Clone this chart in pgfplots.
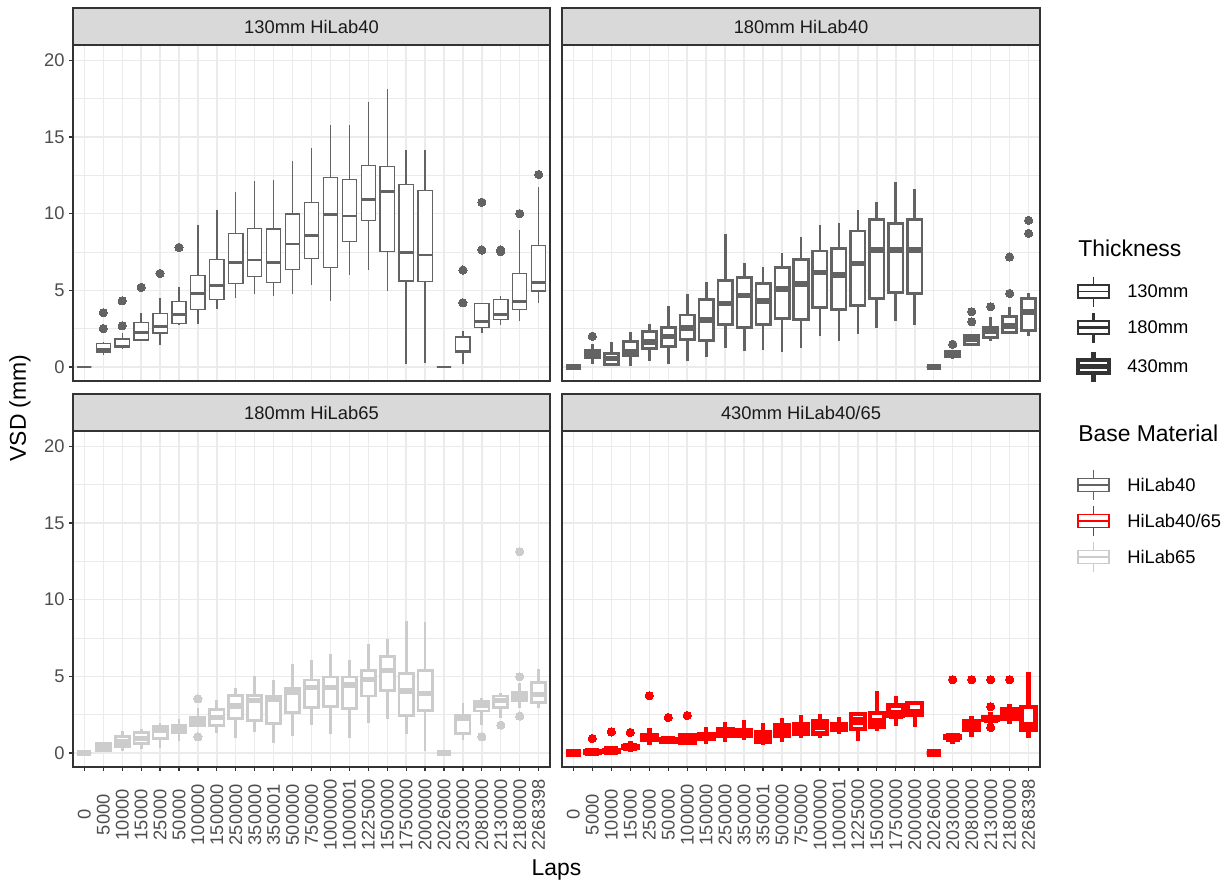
\documentclass[border=0pt]{standalone}
\usepackage{fontspec}
\setmainfont{Liberation Sans}
\usepackage{pgfplots}
\usepackage{pgfplotstable}
\pgfplotsset{compat=1.18}
\usepgfplotslibrary{statistics}

\definecolor{hl40}{HTML}{636363}
\definecolor{hl65}{HTML}{CCCCCC}
\definecolor{hlmix}{HTML}{FF0000}
\definecolor{gridc}{HTML}{EBEBEB}
\definecolor{framec}{HTML}{333333}
\definecolor{stripc}{HTML}{D9D9D9}
\definecolor{tickc}{HTML}{4D4D4D}
\definecolor{stript}{HTML}{1A1A1A}

% Box statistics per panel: position, lower whisker, Q1, median, Q3, upper whisker
\pgfplotstableread{
x lw q1 med q3 uw
0 0 0 0 0 0
1 0.76 0.98 1.15 1.53 1.63
2 1.20 1.26 1.35 1.83 2.20
3 1.68 1.76 2.22 2.90 3.49
4 1.42 2.22 2.61 3.49 4.47
5 2.72 2.83 3.42 4.25 5.19
6 2.83 3.73 4.79 5.97 9.26
7 3.79 4.40 5.32 7.02 10.24
8 4.47 5.45 6.80 8.71 11.44
9 4.75 5.88 6.97 9.04 12.11
10 4.62 5.49 6.80 9.00 12.20
11 4.75 6.34 8.02 9.98 13.46
12 5.34 7.06 8.56 10.74 14.27
13 4.31 6.49 9.96 12.35 15.75
14 5.97 8.17 9.85 12.24 15.75
15 6.32 9.54 10.94 13.16 17.25
16 4.97 7.54 11.44 13.07 18.13
17 0.17 5.60 7.47 11.92 14.12
18 0.26 5.58 7.30 11.52 14.12
19 0 0 0 0 0
20 0.17 0.92 1.00 1.96 2.33
21 2.24 2.57 2.94 4.14 4.14
22 2.72 3.09 3.42 4.40 4.62
23 3.00 3.75 4.29 6.10 8.93
24 4.14 4.95 5.53 7.91 11.76
}\tabA
\pgfplotstableread{
x y
1 3.53
1 2.50
2 4.31
2 2.68
3 5.19
4 6.10
5 7.80
20 6.32
20 4.18
21 10.74
21 7.63
22 7.63
22 7.52
23 10.00
24 12.55
}\outA

\pgfplotstableread{
x lw q1 med q3 uw
0 0 0 0 0 0
1 0.22 0.59 0.81 1.05 1.48
2 0.04 0.17 0.54 0.87 1.63
3 0.04 0.74 0.98 1.68 2.27
4 0.37 1.22 1.63 2.31 2.83
5 0.22 1.31 1.98 2.57 4.00
6 0.37 1.81 2.53 3.38 4.75
7 0.65 1.74 3.05 4.40 5.51
8 1.26 2.77 4.12 5.66 8.67
9 1.05 2.57 4.64 5.84 6.80
10 1.09 2.77 4.31 5.45 6.54
11 0.98 3.14 5.08 6.47 7.45
12 1.26 3.09 5.40 7.02 8.45
13 2.00 3.88 6.14 7.56 9.26
14 1.68 3.75 5.99 7.71 9.37
15 2.14 4.00 6.75 8.87 10.24
16 2.57 4.47 7.63 9.63 10.78
17 3.00 4.86 7.63 9.37 12.03
18 2.72 4.79 7.63 9.63 11.59
19 0 0 0 0 0
20 0.50 0.65 0.83 1.02 1.02
21 1.48 1.48 1.81 2.05 2.05
22 1.68 1.90 2.33 2.57 3.27
23 2.18 2.22 2.66 3.31 3.92
24 2.03 2.40 3.59 4.47 4.84
}\tabB
\pgfplotstableread{
x y
1 2.00
20 1.48
21 2.94
21 3.60
22 3.92
23 4.79
23 7.17
24 8.71
24 9.56
}\outB

\pgfplotstableread{
x lw q1 med q3 uw
0 0 0 0 0 0
1 0.07 0.15 0.37 0.59 0.72
2 0.11 0.44 0.72 1.05 1.42
3 0.26 0.59 0.92 1.31 1.59
4 0.33 0.92 1.48 1.70 1.96
5 0.76 1.31 1.59 1.81 2.18
6 1.68 1.81 2.03 2.33 2.94
7 1.31 1.81 2.29 2.84 3.42
8 0.98 2.22 3.05 3.77 4.25
9 1.37 2.14 3.42 3.77 5.02
10 0.65 1.90 3.47 3.69 4.73
11 1.09 2.62 3.93 4.19 5.78
12 1.81 2.94 4.25 4.75 6.06
13 1.24 3.05 4.25 4.95 6.48
14 0.98 2.90 4.43 4.95 6.06
15 1.96 3.71 4.80 5.39 7.09
16 2.22 4.08 5.39 6.28 7.42
17 1.24 2.46 4.03 5.19 8.62
18 0.15 2.77 3.86 5.39 8.57
19 0 0 0 0 0
20 0.81 1.26 2.25 2.44 3.27
21 1.85 2.73 3.12 3.34 3.60
22 2.29 2.94 3.42 3.71 3.93
23 2.90 3.38 3.64 3.93 4.54
24 2.90 3.27 3.82 4.58 5.45
}\tabC
\pgfplotstableread{
x y
6 3.53
6 1.05
21 1.05
22 1.81
23 4.97
23 2.40
23 13.13
}\outC

\pgfplotstableread{
x lw q1 med q3 uw
0 0 0 0 0 0
1 0 0.02 0.06 0.10 0.30
2 0 0.10 0.15 0.20 0.45
3 0.09 0.35 0.40 0.46 0.78
4 0.52 0.83 1.00 1.18 1.61
5 0.61 0.76 0.83 0.89 1.05
6 0.50 0.65 0.85 1.18 1.33
7 0.57 0.94 1.10 1.24 1.70
8 0.68 1.11 1.29 1.55 2.03
9 0.83 1.11 1.33 1.50 2.14
10 0.52 0.72 1.00 1.33 1.94
11 0.68 1.11 1.48 1.83 2.27
12 1.00 1.26 1.55 1.90 2.49
13 0.96 1.26 1.77 2.05 2.53
14 1.26 1.53 1.70 1.90 2.36
15 0.78 1.55 2.07 2.55 2.64
16 1.40 1.70 1.98 2.60 4.01
17 1.77 2.40 2.50 3.08 3.69
18 1.70 2.50 2.60 3.25 3.40
19 0 0 0 0 0
20 0.61 0.98 1.02 1.07 1.22
21 1.05 1.48 1.83 2.05 2.38
22 1.55 2.14 2.22 2.31 2.64
23 1.88 2.20 2.53 2.86 3.18
24 1.00 1.48 1.77 2.99 5.26
}\tabD
\pgfplotstableread{
x y
1 0.94
2 1.37
3 1.33
4 3.73
5 2.31
6 2.44
20 4.78
21 4.78
22 4.78
22 3.01
22 1.66
23 4.78
}\outD

% one boxplot per table row
\newcommand\drawboxes[2]{%
  \pgfplotstablegetrowsof{#1}%
  \pgfmathtruncatemacro\lastrow{\pgfplotsretval-1}%
  \pgfplotsforeachungrouped \rw in {0,...,\lastrow}{%
    \pgfplotstablegetelem{\rw}{x}\of{#1}\let\bx\pgfplotsretval
    \pgfplotstablegetelem{\rw}{lw}\of{#1}\let\blw\pgfplotsretval
    \pgfplotstablegetelem{\rw}{q1}\of{#1}\let\bqa\pgfplotsretval
    \pgfplotstablegetelem{\rw}{med}\of{#1}\let\bmd\pgfplotsretval
    \pgfplotstablegetelem{\rw}{q3}\of{#1}\let\bqb\pgfplotsretval
    \pgfplotstablegetelem{\rw}{uw}\of{#1}\let\buw\pgfplotsretval
    \edef\next{\noexpand\addplot[#2, boxplot prepared={draw position=\bx,
      lower whisker=\blw, lower quartile=\bqa, median=\bmd,
      upper quartile=\bqb, upper whisker=\buw}] coordinates {};}%
    \next
  }%
}

\pgfplotsset{
  panel/.style={
    scale only axis, height=252bp,
    xmin=-0.6, xmax=24.6, ymin=-0.92, ymax=21.0,
    xtick={0,...,24}, ytick={0,5,10,15,20}, minor ytick={2.5,7.5,12.5,17.5},
    xmajorgrids, ymajorgrids, yminorgrids,
    major grid style={gridc, line width=1.05bp},
    minor grid style={gridc, line width=0.55bp},
    axis line style={framec, line width=1bp},
    tick align=outside, major tick length=2.8bp, minor tick length=0pt,
    tick style={framec, line width=0.9bp},
    xtick pos=bottom, ytick pos=left,
    /pgf/number format/assume math mode=true,
    yticklabel style={font=\fontsize{13.8}{14}\selectfont, text=tickc},
    boxplot/draw direction=y,
    boxplot/box extend=0.75, boxplot/whisker extend=0,
    boxplot/every box/.style={fill=white},
  },
  noxlab/.style={xticklabel={\empty}, xtick style={draw=none}},
  noylab/.style={yticklabel={\empty}, ytick style={draw=none}},
  xlabs/.style={
    xticklabels={0,5000,10000,15000,25000,50000,100000,150000,250000,350000,350001,500000,750000,1000000,1000001,1225000,1500000,1750000,2000000,2026000,2030000,2080000,2130000,2180000,2268398},
    xticklabel style={rotate=90, anchor=center, xshift=-33bp, font=\fontsize{13.8}{14}\selectfont, text=tickc},
  },
  bxA/.style={draw=hl40, line width=1bp, boxplot/every median/.style={line width=2.1bp}},
  bxB/.style={draw=hl40, line width=2.1bp, boxplot/every median/.style={line width=4bp}},
  bxC/.style={draw=hl65, line width=2.1bp, boxplot/every median/.style={line width=4bp}},
  bxD/.style={draw=hlmix, line width=3.4bp, boxplot/every median/.style={line width=6.4bp}},
  outl/.style={only marks, color=#1, mark=*, mark size=3.1bp,
    mark options={solid, draw=#1, fill=#1, line width=0pt}},
}

% legend glyph: centre x, centre y (px units), colour, line width
\newcommand\keyglyph[4]{%
  \draw[#3, line width=#4] (#1,#2-15) -- (#1,#2-6.5) (#1,#2+6.5) -- (#1,#2+15);
  \draw[#3, line width=#4, fill=white] (#1-15.5,#2-6.5) rectangle (#1+15.5,#2+6.5);
  \draw[#3, line width=#4] (#1-15.5,#2) -- (#1+15.5,#2);
}

\begin{document}
\begin{tikzpicture}
\useasboundingbox (0,0) rectangle (924bp,-663bp);

% 130mm HiLab40
\begin{axis}[panel, width=357.75bp, noxlab, at={(54.75bp,-285.75bp)}, anchor=south west]
  \drawboxes{\tabA}{bxA}
  \addplot[outl=hl40] table[x=x, y=y] {\outA};
\end{axis}

% 180mm HiLab40
\begin{axis}[panel, width=358.5bp, noxlab, noylab, at={(421.5bp,-285.75bp)}, anchor=south west]
  \drawboxes{\tabB}{bxB}
  \addplot[outl=hl40] table[x=x, y=y] {\outB};
\end{axis}

% 180mm HiLab65
\begin{axis}[panel, width=357.75bp, xlabs, at={(54.75bp,-575.25bp)}, anchor=south west]
  \drawboxes{\tabC}{bxC}
  \addplot[outl=hl65] table[x=x, y=y] {\outC};
\end{axis}

% 430mm HiLab40/65
\begin{axis}[panel, width=358.5bp, xlabs, noylab, at={(421.5bp,-575.25bp)}, anchor=south west]
  \drawboxes{\tabD}{bxD}
  \addplot[outl=hlmix] table[x=x, y=y] {\outD};
\end{axis}

\begin{scope}[x=0.75bp, y=-0.75bp]
  % facet strips
  \foreach \xa/\xb/\ya/\yb/\lab in {73/550/8/45/130mm HiLab40, 562/1040/8/45/180mm HiLab40,
      73/550/394/431/180mm HiLab65, 562/1040/394/431/430mm HiLab40\slash 65}{
    \draw[framec, line width=1bp, fill=stripc] (\xa,\ya) rectangle (\xb,\yb);
    \node[font=\fontsize{13.8}{14}\selectfont, text=stript] at ({(\xa+\xb)/2},{(\ya+\yb)/2}) {\lab};
  }
  % axis titles
  \node[font=\fontsize{17.25}{18}\selectfont, rotate=90] at (20,408) {VSD (mm)};
  \node[font=\fontsize{17.25}{18}\selectfont] at (556.5,870) {Laps};

  % legends
  \node[font=\fontsize{17.25}{18}\selectfont, anchor=west, inner sep=0pt] at (1078,248) {Thickness};
  \keyglyph{1093.5}{291.5}{framec}{1bp}
  \keyglyph{1093.5}{327.5}{framec}{2.1bp}
  \keyglyph{1093.5}{366.5}{framec}{3.4bp}
  \node[font=\fontsize{13.8}{14}\selectfont, anchor=west, inner sep=0pt] at (1127,291.5) {130mm};
  \node[font=\fontsize{13.8}{14}\selectfont, anchor=west, inner sep=0pt] at (1127,327.5) {180mm};
  \node[font=\fontsize{13.8}{14}\selectfont, anchor=west, inner sep=0pt] at (1127,366.5) {430mm};

  \node[font=\fontsize{17.25}{18}\selectfont, anchor=west, inner sep=0pt] at (1078,433) {Base Material};
  \keyglyph{1093.5}{485}{hl40}{1.25bp}
  \keyglyph{1093.5}{521}{hlmix}{1.25bp}
  \keyglyph{1093.5}{557}{hl65}{1.25bp}
  \node[font=\fontsize{13.8}{14}\selectfont, anchor=west, inner sep=0pt] at (1127,485) {HiLab40};
  \node[font=\fontsize{13.8}{14}\selectfont, anchor=west, inner sep=0pt] at (1127,521) {HiLab40/65};
  \node[font=\fontsize{13.8}{14}\selectfont, anchor=west, inner sep=0pt] at (1127,557) {HiLab65};
\end{scope}
\end{tikzpicture}
\end{document}
